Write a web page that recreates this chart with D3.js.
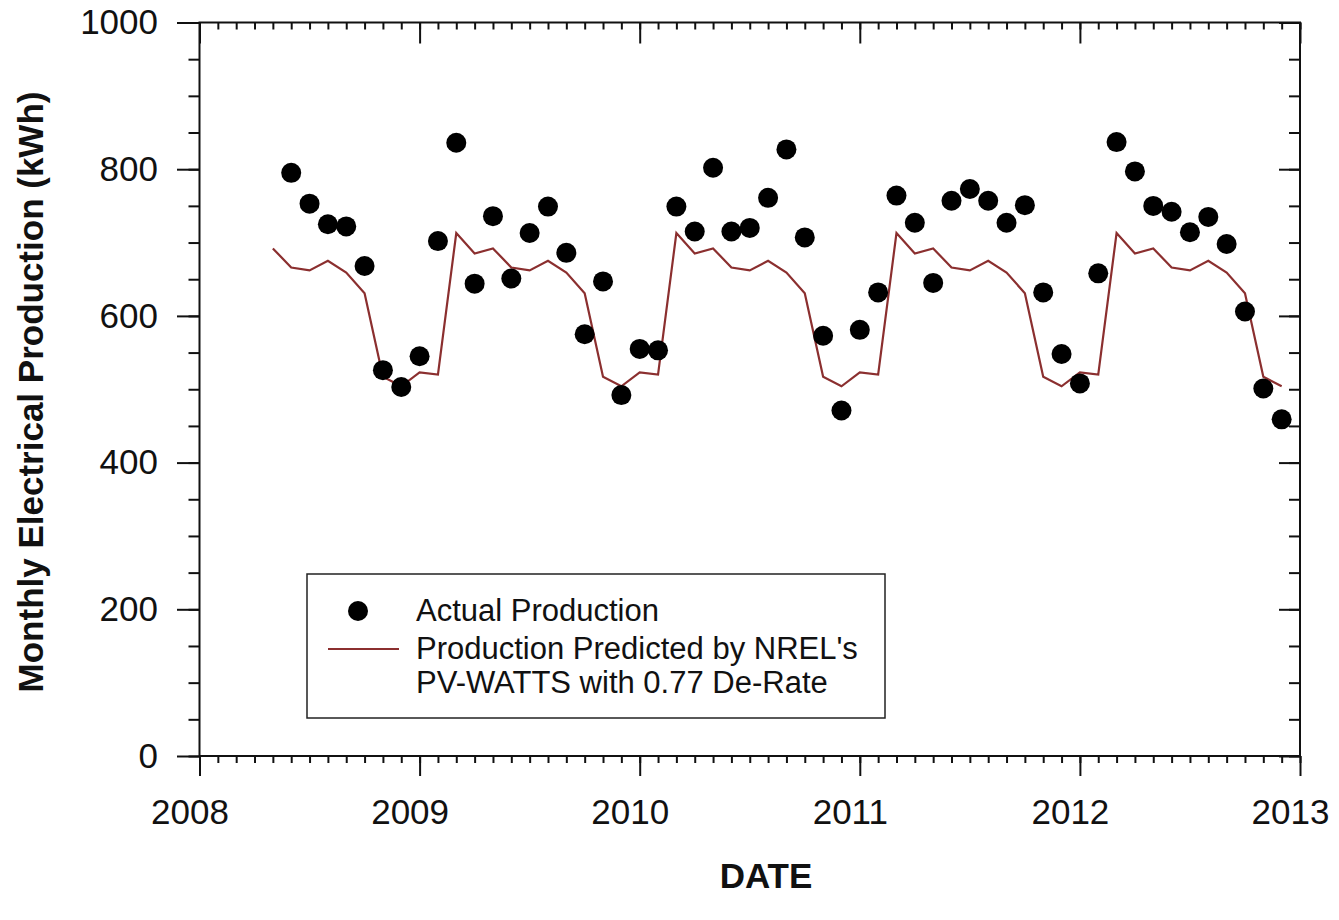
<!DOCTYPE html>
<html>
<head>
<meta charset="utf-8">
<script src="https://cdn.jsdelivr.net/npm/d3@7"></script>
<style>
  html, body { margin: 0; padding: 0; background: #fff; }
  svg { display: block; }
  text { font-family: "Liberation Sans", Arial, Helvetica, sans-serif; fill: #111; }
</style>
</head>
<body>
<svg id="chart" width="1339" height="920"></svg>
<script>
// Monthly actual production (kWh), by year and month
const actualMonths = [
  "2008-06","2008-07","2008-08","2008-09","2008-10","2008-11","2008-12",
  "2009-01","2009-02","2009-03","2009-04","2009-05","2009-06","2009-07","2009-08","2009-09","2009-10","2009-11","2009-12",
  "2010-01","2010-02","2010-03","2010-04","2010-05","2010-06","2010-07","2010-08","2010-09","2010-10","2010-11","2010-12",
  "2011-01","2011-02","2011-03","2011-04","2011-05","2011-06","2011-07","2011-08","2011-09","2011-10","2011-11","2011-12",
  "2012-01","2012-02","2012-03","2012-04","2012-05","2012-06","2012-07","2012-08","2012-09","2012-10","2012-11","2012-12"
];
const actualValues = [
  795, 753, 725, 722, 668, 526, 503,
  545, 702, 836, 644, 736, 651, 713, 749, 686, 575, 647, 492,
  555, 553, 749, 715, 802, 715, 720, 761, 827, 707, 573, 471,
  581, 632, 764, 727, 645, 757, 773, 757, 727, 751, 632, 548,
  508, 658, 837, 797, 750, 742, 714, 735, 698, 606, 501, 459
];

// PV-WATTS predicted production (kWh), May 2008 - Dec 2012
const predictedMonths = [
  "2008-05","2008-06","2008-07","2008-08","2008-09","2008-10","2008-11","2008-12",
  "2009-01","2009-02","2009-03","2009-04","2009-05","2009-06","2009-07","2009-08","2009-09","2009-10","2009-11","2009-12",
  "2010-01","2010-02","2010-03","2010-04","2010-05","2010-06","2010-07","2010-08","2010-09","2010-10","2010-11","2010-12",
  "2011-01","2011-02","2011-03","2011-04","2011-05","2011-06","2011-07","2011-08","2011-09","2011-10","2011-11","2011-12",
  "2012-01","2012-02","2012-03","2012-04","2012-05","2012-06","2012-07","2012-08","2012-09","2012-10","2012-11","2012-12"
];
const predictedValues = [
  692, 666, 662, 675, 659, 631, 517, 504,
  523, 520, 713, 685, 692, 666, 662, 675, 659, 631, 517, 504,
  523, 520, 713, 685, 692, 666, 662, 675, 659, 631, 517, 504,
  523, 520, 713, 685, 692, 666, 662, 675, 659, 631, 517, 504,
  523, 520, 713, 685, 692, 666, 662, 675, 659, 631, 517, 504
];

const yearTicks = [2008, 2009, 2010, 2011, 2012, 2013];
const yMajorTicks = [0, 200, 400, 600, 800, 1000];

const xTitle = "DATE";
const yTitle = "Monthly Electrical Production (kWh)";
const legendLabels = ["Actual Production", "Production Predicted by NREL's", "PV-WATTS with 0.77 De-Rate"];

// month string -> decimal year (month start)
const toYear = s => { const [yr, m] = s.split("-").map(Number); return yr + (m - 1) / 12; };

const svg = d3.select("#chart");
const plotLeft = 199.5, plotRight = 1300, plotTop = 22.5, plotBottom = 756;

const x = d3.scaleLinear().domain([2008, 2013]).range([plotLeft, plotRight]);
const y = d3.scaleLinear().domain([0, 1000]).range([plotBottom, plotTop]);

const monthTicks = d3.range(2008 * 12, 2013 * 12 + 1).map(v => v / 12);
const yMinorTicks = d3.range(0, 1001, 50);

const strokeAxis = "#111";

function styleAxis(g) {
  g.select(".domain").remove();
  g.selectAll(".tick line").attr("stroke", strokeAxis).attr("stroke-width", 2);
}

// Bottom axis: minor monthly ticks and labelled yearly ticks (outward)
svg.append("g").attr("transform", `translate(0,${plotBottom})`)
  .call(d3.axisBottom(x).tickValues(monthTicks).tickSize(7).tickFormat(""))
  .call(styleAxis);
svg.append("g").attr("transform", `translate(0,${plotBottom})`)
  .call(d3.axisBottom(x).tickValues(yearTicks).tickSize(20).tickPadding(23).tickFormat(d3.format("d")))
  .call(styleAxis)
  .call(g => g.selectAll(".tick text").attr("font-size", 35).attr("dx", -10).attr("fill", "#111"));

// Top axis: ticks pointing inward
svg.append("g").attr("transform", `translate(0,${plotTop})`)
  .call(d3.axisBottom(x).tickValues(monthTicks).tickSize(7).tickFormat(""))
  .call(styleAxis);
svg.append("g").attr("transform", `translate(0,${plotTop})`)
  .call(d3.axisBottom(x).tickValues(yearTicks).tickSize(21).tickFormat(""))
  .call(styleAxis);

// Left axis: outward ticks with labels
svg.append("g").attr("transform", `translate(${plotLeft},0)`)
  .call(d3.axisLeft(y).tickValues(yMinorTicks).tickSize(11).tickFormat(""))
  .call(styleAxis);
svg.append("g").attr("transform", `translate(${plotLeft},0)`)
  .call(d3.axisLeft(y).tickValues(yMajorTicks).tickSize(22.5).tickPadding(19).tickFormat(d3.format("d")))
  .call(styleAxis)
  .call(g => g.selectAll(".tick text").attr("font-size", 35).attr("fill", "#111"));

// Right axis: inward ticks
svg.append("g").attr("transform", `translate(${plotRight},0)`)
  .call(d3.axisLeft(y).tickValues(yMinorTicks).tickSize(11).tickFormat(""))
  .call(styleAxis);
svg.append("g").attr("transform", `translate(${plotRight},0)`)
  .call(d3.axisLeft(y).tickValues(yMajorTicks).tickSize(21).tickFormat(""))
  .call(styleAxis);

// Plot frame
svg.append("rect")
  .attr("x", plotLeft).attr("y", plotTop)
  .attr("width", plotRight - plotLeft).attr("height", plotBottom - plotTop)
  .attr("fill", "none").attr("stroke", strokeAxis).attr("stroke-width", 2);

// Predicted line
const predicted = predictedMonths.map((m, i) => ({ t: toYear(m), v: predictedValues[i] }));
const line = d3.line().x(d => x(d.t)).y(d => y(d.v));
svg.append("path")
  .datum(predicted)
  .attr("d", line)
  .attr("fill", "none")
  .attr("stroke", "#8b2f2f")
  .attr("stroke-width", 2.2)
  .attr("stroke-linejoin", "miter");

// Actual points
const actual = actualMonths.map((m, i) => ({ t: toYear(m), v: actualValues[i] }));
svg.append("g").selectAll("circle")
  .data(actual)
  .join("circle")
  .attr("cx", d => x(d.t))
  .attr("cy", d => y(d.v))
  .attr("r", 10)
  .attr("fill", "#000");

// Legend
const lg = svg.append("g");
lg.append("rect")
  .attr("x", 307).attr("y", 574).attr("width", 578).attr("height", 144)
  .attr("fill", "#fff").attr("stroke", "#222").attr("stroke-width", 1.5);
lg.append("circle").attr("cx", 358).attr("cy", 611).attr("r", 10).attr("fill", "#000");
lg.append("line").attr("x1", 328).attr("x2", 399).attr("y1", 649).attr("y2", 649)
  .attr("stroke", "#8b2f2f").attr("stroke-width", 2.2);
lg.selectAll("text.lab")
  .data(legendLabels)
  .join("text")
  .attr("class", "lab")
  .attr("x", 416)
  .attr("y", (d, i) => [621, 659, 693][i])
  .attr("font-size", 31)
  .text(d => d);

// Axis titles
svg.append("text")
  .attr("x", 766).attr("y", 888)
  .attr("text-anchor", "middle")
  .attr("font-size", 35).attr("font-weight", "bold")
  .text(xTitle);
svg.append("text")
  .attr("transform", "translate(43,392) rotate(-90)")
  .attr("text-anchor", "middle")
  .attr("font-size", 35).attr("font-weight", "bold")
  .text(yTitle);
</script>
</body>
</html>
